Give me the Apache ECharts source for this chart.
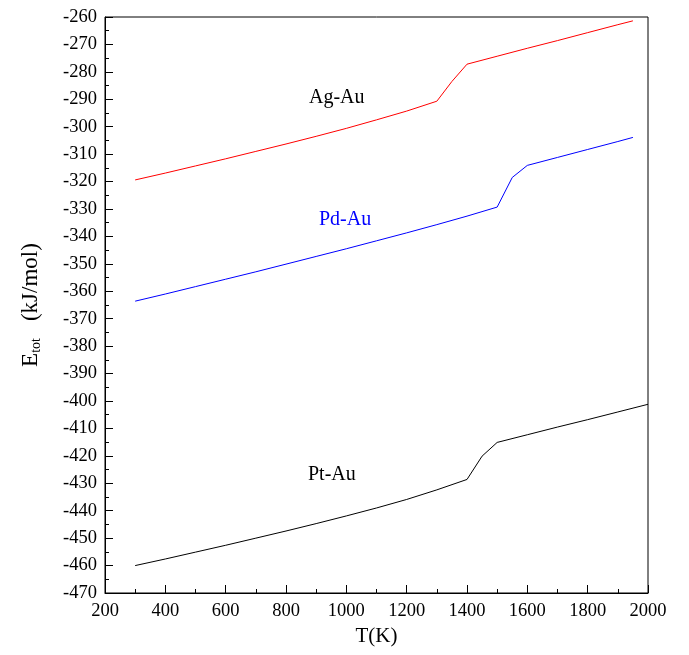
<!DOCTYPE html>
<html>
<head>
<meta charset="utf-8">
<script src="https://cdn.jsdelivr.net/npm/echarts@6/dist/echarts.min.js"></script>
<style>
  html, body { margin: 0; padding: 0; background: #fff; }
  #chart { width: 689px; height: 655px; }
</style>
</head>
<body>
<div id="chart"></div>
<script>
// temperatures (K) and total energies (kJ/mol)
var tempAg = [300, 400, 500, 600, 700, 800, 900, 1000, 1100, 1200, 1300, 1350, 1400, 1500, 1600, 1700, 1800, 1900, 1950];
var agAu   = [-319.4, -316.9, -314.3, -311.7, -309.0, -306.3, -303.5, -300.6, -297.5, -294.3, -290.7, -283.5, -277.2, -274.3, -271.4, -268.6, -265.7, -262.8, -261.4];

var tempPd = [300, 400, 500, 600, 700, 800, 900, 1000, 1100, 1200, 1300, 1400, 1500, 1550, 1600, 1700, 1800, 1900, 1950];
var pdAu   = [-363.6, -361.0, -358.3, -355.6, -352.9, -350.1, -347.3, -344.5, -341.6, -338.7, -335.7, -332.6, -329.3, -318.5, -314.1, -311.2, -308.3, -305.4, -303.9];

var tempPt = [300, 400, 500, 600, 700, 800, 900, 1000, 1100, 1200, 1300, 1400, 1450, 1500, 1600, 1700, 1800, 1900, 2000];
var ptAu   = [-460.0, -457.6, -455.1, -452.6, -450.0, -447.4, -444.7, -441.9, -439.0, -435.9, -432.4, -428.6, -420.1, -415.1, -412.3, -409.5, -406.8, -404.0, -401.2];

function pairs(xs, ys) {
    return xs.map(function (x, i) { return [x, ys[i]]; });
}

var font = 'Liberation Serif';
var chart = echarts.init(document.getElementById('chart'));

var option = {
    backgroundColor: '#fff',
    animation: false,
    grid: {
        left: 105, right: 41, top: 17, bottom: 62,
        show: true, borderColor: '#000', borderWidth: 1
    },
    xAxis: {
        type: 'value',
        min: 200, max: 2000, interval: 200,
        name: 'T(K)',
        nameLocation: 'middle',
        nameGap: 33,
        nameTextStyle: { fontFamily: font, fontSize: 21, color: '#000' },
        axisLine: { lineStyle: { color: '#000' } },
        axisTick: { inside: true, length: 8, lineStyle: { color: '#000' } },
        minorTick: { show: true, splitNumber: 2, length: 4, lineStyle: { color: '#000' } },
        axisLabel: {
            fontFamily: font, fontSize: 18.5, color: '#000', margin: 9,
            formatter: function (v) { return String(v); }
        },
        splitLine: { show: false }
    },
    yAxis: {
        type: 'value',
        min: -470, max: -260, interval: 10,
        name: '{e|E}{s|tot}{g|}{e|(kJ/mol)}',
        nameLocation: 'middle',
        nameGap: 62,
        nameRotate: 90,
        nameTextStyle: {
            padding: [0, 0, 0, 0],
            rich: {
                e: { fontFamily: font, fontSize: 23, color: '#000' },
                s: { fontFamily: font, fontSize: 14, color: '#000', verticalAlign: 'bottom', padding: [11, 0, 0, 0] },
                g: { width: 17 }
            }
        },
        axisLine: { lineStyle: { color: '#000' } },
        axisTick: { inside: true, length: 8, lineStyle: { color: '#000' } },
        minorTick: { show: true, splitNumber: 2, length: 4, lineStyle: { color: '#000' } },
        axisLabel: { fontFamily: font, fontSize: 18.5, color: '#000', margin: 8 },
        splitLine: { show: false }
    },
    graphic: [
        { type: 'text', left: 309, top: 88, style: { text: 'Ag-Au', font: '20px "Liberation Serif"', fill: '#000' } },
        { type: 'text', left: 319, top: 210, style: { text: 'Pd-Au', font: '20px "Liberation Serif"', fill: '#0000ff' } },
        { type: 'text', left: 308, top: 465, style: { text: 'Pt-Au', font: '20px "Liberation Serif"', fill: '#000' } }
    ],
    series: [
        {
            name: 'Ag-Au', type: 'line', data: pairs(tempAg, agAu),
            showSymbol: false, lineStyle: { color: '#ff0000', width: 1 }
        },
        {
            name: 'Pd-Au', type: 'line', data: pairs(tempPd, pdAu),
            showSymbol: false, lineStyle: { color: '#0000ff', width: 1 }
        },
        {
            name: 'Pt-Au', type: 'line', data: pairs(tempPt, ptAu),
            showSymbol: false, lineStyle: { color: '#000', width: 1 }
        }
    ]
};

chart.setOption(option);
window.addEventListener('resize', function () {
    chart.resize();
});
</script>
</body>
</html>
